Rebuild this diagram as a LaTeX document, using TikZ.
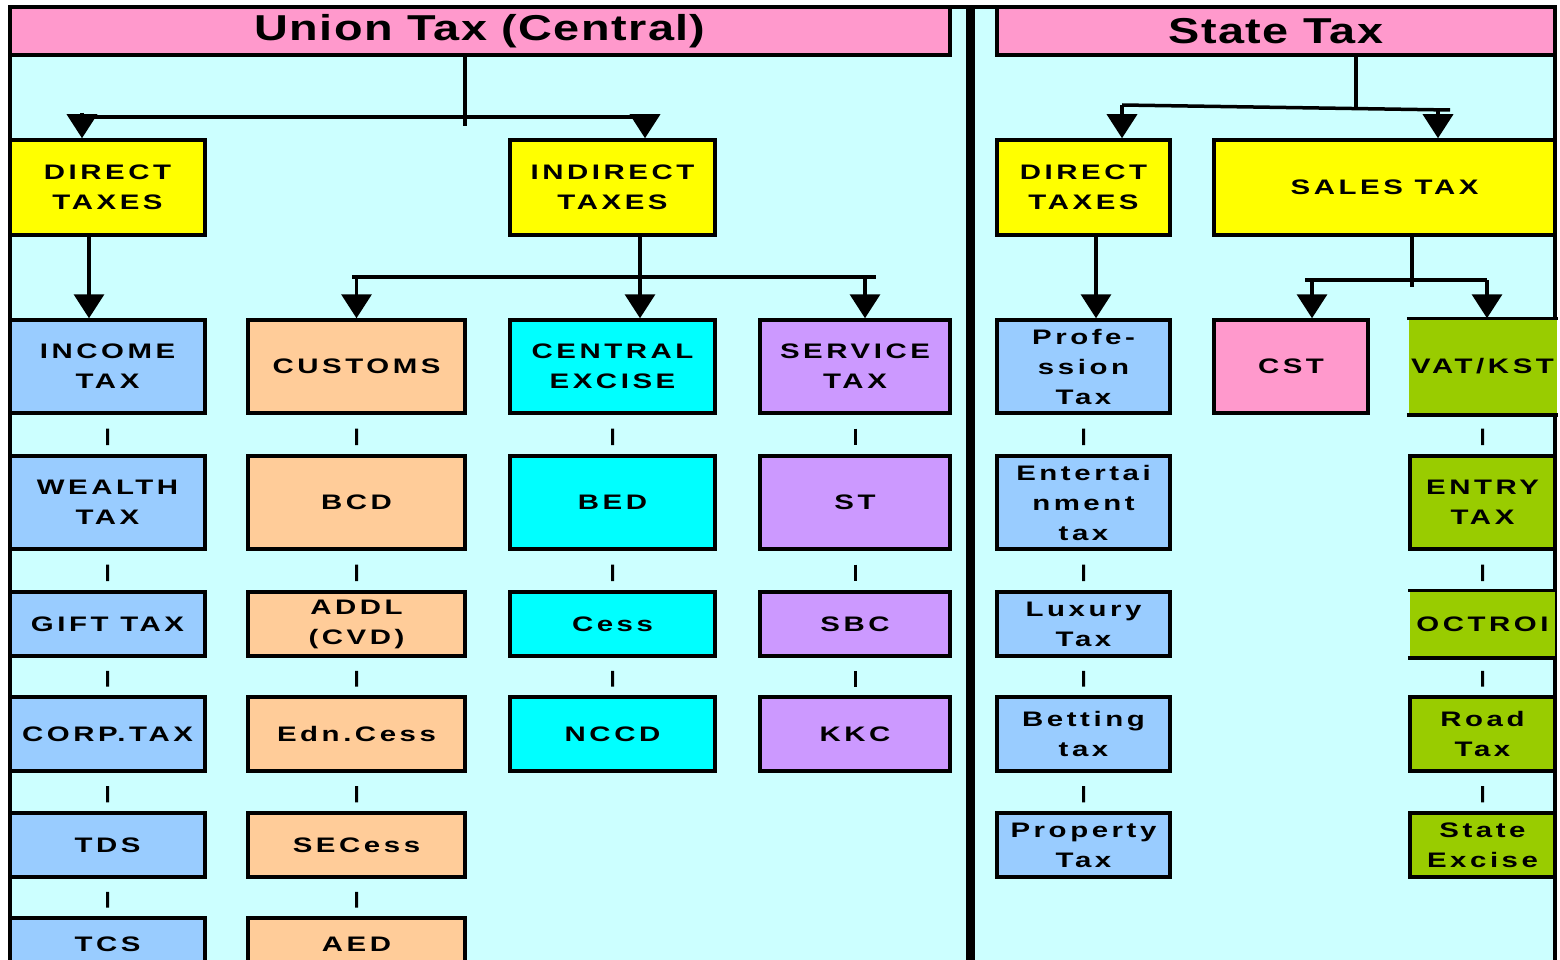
\documentclass[tikz,border=0pt]{standalone}
\usepackage{fontspec}
\setmainfont{Liberation Sans}
\newfontfamily\boxfont{Liberation Sans}[FakeStretch=1.4, LetterSpace=17]
\newfontfamily\headfont{Liberation Sans}[FakeStretch=1.3, LetterSpace=4]
\usetikzlibrary{arrows.meta,calc}

\definecolor{panelbg}{HTML}{CCFFFF}
\definecolor{headpink}{HTML}{FF99CC}
\definecolor{hdyellow}{HTML}{FFFF00}
\definecolor{incblue}{HTML}{99CCFF}
\definecolor{cuspeach}{HTML}{FFCC99}
\definecolor{excyan}{HTML}{00FFFF}
\definecolor{srvviolet}{HTML}{CC99FF}
\definecolor{vatgreen}{HTML}{99CC00}

\begin{document}
\begin{tikzpicture}[x=1pt,y=-1pt,
  box/.style={draw=black, line width=3.5pt, inner sep=0pt, align=center,
    font=\boxfont\bfseries\fontsize{21}{30}\selectfont},
  openbox/.style={box, draw=none},
  head/.style={draw=black, line width=3.5pt, inner sep=0pt,
    font=\headfont\bfseries\fontsize{36}{40}\selectfont},
  conn/.style={line width=3.5pt},
  arr/.style={line width=3.5pt, -{Triangle[width=30pt,length=24pt]}},
  tickline/.style={line width=3pt},
  colA/.style={box, fill=incblue, minimum width=195},
  colB/.style={box, fill=cuspeach, minimum width=217},
  colC/.style={box, fill=excyan, minimum width=205},
  colD/.style={box, fill=srvviolet, minimum width=190},
  colE/.style={box, fill=incblue, minimum width=173},
  colF/.style={box, fill=vatgreen, minimum width=145},
  tall/.style={minimum height=93},
  short/.style={minimum height=64},
  mid/.style={minimum height=74},
]
\useasboundingbox (0,0) rectangle (1560,960);
\clip (0,0) rectangle (1560,960);

% page and panel backgrounds
\fill[white] (0,0) rectangle (1560,960);
\fill[panelbg] (10,7) rectangle (1555,960);
\draw[line width=3.5pt] (10,960) -- (10,7) -- (1555,7) -- (1555,960);
\fill[black] (966,7) rectangle (975,960);

% panel headings
\node[head, fill=headpink, minimum width=940, minimum height=48] (uhead) at (480,31) {Union Tax (Central)};
\node[head, fill=headpink, minimum width=558, minimum height=48] (shead) at (1276,31) {State Tax};

% ---------- Union taxes ----------
\node[box, fill=hdyellow, minimum width=195, minimum height=95] (udirect) at (107.5,187.5) {DIRECT\\TAXES};
\node[box, fill=hdyellow, minimum width=205, minimum height=95] (uindirect) at (612.5,187.5) {INDIRECT\\TAXES};

\node[colA, tall]  (income) at (107.5,366.5) {INCOME\\TAX};
\node[colA, tall]  (wealth) at (107.5,502.5) {WEALTH\\TAX};
\node[colA, short] (gift)   at (107.5,624)   {GIFT TAX};
\node[colA, mid]   (corp)   at (107.5,734)   {CORP.TAX};
\node[colA, short] (tds)    at (107.5,845)   {TDS};
\node[colA, minimum height=52] (tcs) at (107.5,944) {TCS};

\node[colB, tall]  (customs) at (356.5,366.5) {CUSTOMS};
\node[colB, tall]  (bcd)     at (356.5,502.5) {BCD};
\node[colB, short] (addl)    at (356.5,624)   {ADDL\\(CVD)};
\node[colB, mid]   (edn)     at (356.5,734)   {Edn.Cess};
\node[colB, short] (secess)  at (356.5,845)   {SECess};
\node[colB, minimum height=52] (aed) at (356.5,944) {AED};

\node[colC, tall]  (cex)  at (612.5,366.5) {CENTRAL\\EXCISE};
\node[colC, tall]  (bed)  at (612.5,502.5) {BED};
\node[colC, short] (cess) at (612.5,624)   {Cess};
\node[colC, mid]   (nccd) at (612.5,734)   {NCCD};

\node[colD, tall]  (stax) at (855,366.5) {SERVICE\\TAX};
\node[colD, tall]  (st)   at (855,502.5) {ST};
\node[colD, short] (sbc)  at (855,624)   {SBC};
\node[colD, mid]   (kkc)  at (855,734)   {KKC};

% ---------- State taxes ----------
\node[box, fill=hdyellow, minimum width=173, minimum height=95] (sdirect) at (1083.5,187.5) {DIRECT\\TAXES};
\node[box, fill=hdyellow, minimum width=341, minimum height=95] (sales) at (1384.5,187.5) {SALES TAX};

\node[colE, tall]  (prof) at (1083.5,366.5) {Profe-\\ssion\\Tax};
\node[colE, tall]  (ent)  at (1083.5,502.5) {Entertai\\nment\\tax};
\node[colE, short] (lux)  at (1083.5,624)   {Luxury\\Tax};
\node[colE, mid]   (bet)  at (1083.5,734)   {Betting\\tax};
\node[colE, short] (prop) at (1083.5,845)   {Property\\Tax};

\node[box, fill=headpink, minimum width=154, tall] (cst) at (1291,366.5) {CST};

\node[openbox, fill=vatgreen, minimum width=148, tall] (vat) at (1482.5,366.5) {VAT/KST};
\draw[line width=3.5pt] (vat.north west) -- (vat.north east);
\draw[line width=3.5pt] (vat.south west) -- (vat.south east);
\node[colF, tall] (entry) at (1482.5,502.5) {ENTRY\\TAX};
\node[openbox, fill=vatgreen, minimum width=145, short] (octroi) at (1482.5,624) {OCTROI};
\draw[line width=3.5pt] (octroi.north west) -- (octroi.north east);
\draw[line width=3.5pt] (octroi.south west) -- (octroi.south east);
\node[colF, mid]   (road) at (1482.5,734) {Road\\Tax};
\node[colF, short] (sexc) at (1482.5,845) {State\\Excise};

% ---------- branch connectors ----------
\coordinate (ustem) at (465,126);
\coordinate (ubarL) at (75,117);
\coordinate (uarrL) at (82,113);
\coordinate (ubarR) at (645,117);
\draw[conn] (uhead.south -| ustem) -- (ustem);
\draw[conn] (ubarL) -- (ubarR);
\draw[arr] (uarrL) -- (udirect.north -| uarrL);
\draw[arr] (ubarR) -- (uindirect.north -| ubarR);

\draw[arr] ([xshift=-18.5pt]udirect.south) -- ([xshift=-18.5pt]income.north);

\coordinate (ibarL) at (352,277);
\coordinate (ibarR) at (876,277);
\draw[conn] ([xshift=27.5pt]uindirect.south) -- ++(0,40);
\draw[conn] (ibarL) -- (ibarR);
\draw[arr] (customs.north |- ibarL) -- (customs.north);
\draw[arr] ([xshift=27.5pt]cex.north |- ibarL) -- ([xshift=27.5pt]cex.north);
\draw[arr] ([xshift=10pt]stax.north |- ibarL) -- ([xshift=10pt]stax.north);

\coordinate (sstem) at (1356,107);
\coordinate (sbarL) at (1122,105);
\coordinate (sbarR) at (1450,110);
\draw[conn] (shead.south -| sstem) -- (sstem);
\draw[conn] (sbarL) -- (sbarR);
\draw[arr] (sbarL) -- (sdirect.north -| sbarL);
\draw[arr] ([xshift=53.5pt]sales.north |- sbarR) -- ([xshift=53.5pt]sales.north);

\draw[arr] ([xshift=12.5pt]sdirect.south) -- ([xshift=12.5pt]prof.north);

\coordinate (vbarL) at (1305,280);
\coordinate (vbarR) at (1487,280);
\draw[conn] ([xshift=27.5pt]sales.south) -- ++(0,50);
\draw[conn] (vbarL) -- (vbarR);
\draw[arr] ([xshift=21pt]cst.north |- vbarL) -- ([xshift=21pt]cst.north);
\draw[arr] (vbarR) -- (vat.north -| vbarR);

% ---------- short ticks between stacked boxes ----------
\foreach \a/\b in {income/wealth, wealth/gift, gift/corp, corp/tds, tds/tcs,
                   customs/bcd, bcd/addl, addl/edn, edn/secess, secess/aed,
                   cex/bed, bed/cess, cess/nccd,
                   stax/st, st/sbc, sbc/kkc,
                   prof/ent, ent/lux, lux/bet, bet/prop,
                   vat/entry, entry/octroi, octroi/road, road/sexc}
  \draw[tickline] ($(\a.south)!0.35!(\b.north)$) -- ($(\a.south)!0.77!(\b.north)$);
\end{tikzpicture}
\end{document}
